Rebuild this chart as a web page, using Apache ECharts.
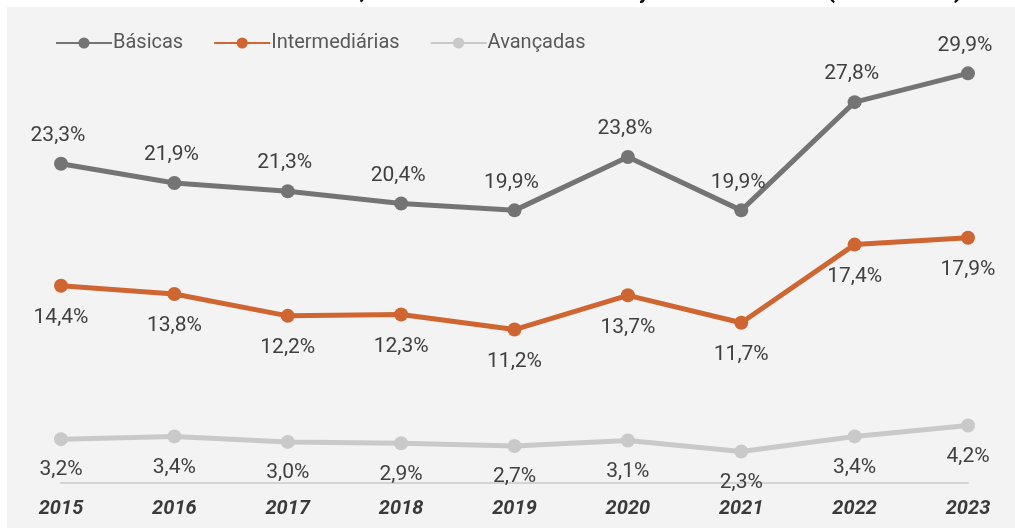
<!DOCTYPE html>
<html>
<head>
<meta charset="utf-8">
<script src="https://cdn.jsdelivr.net/npm/echarts@6/dist/echarts.min.js"></script>
<style>
html,body{margin:0;padding:0;background:#ffffff;}
#c{width:1015px;height:528px;}
</style>
</head>
<body>
<div id="c"></div>
<script>
const categories = ['2015','2016','2017','2018','2019','2020','2021','2022','2023'];
const basicas = [23.3, 21.9, 21.3, 20.4, 19.9, 23.8, 19.9, 27.8, 29.9];
const intermediarias = [14.4, 13.8, 12.2, 12.3, 11.2, 13.7, 11.7, 17.4, 17.9];
const avancadas = [3.2, 3.4, 3.0, 2.9, 2.7, 3.1, 2.3, 3.4, 4.2];
const seriesNames = ['Básicas', 'Intermediárias', 'Avançadas'];
const titleLeft = 'Proporção de pessoas que realizaram atividades básicas,';
const titleRight = ' intermediárias e avançadas no Brasil (% do total)';

const fmt = p => p.value.toFixed(1).replace('.', ',') + '%';
const FONT = 'Roboto, "Noto Sans", sans-serif';

const chart = echarts.init(document.getElementById('c'));
function mk(name, data, color, pos) {
  return {
    name, type: 'line', data,
    symbol: 'circle', symbolSize: 14,
    lineStyle: { width: 5, color },
    itemStyle: { color },
    label: {
      show: true, position: pos, align: 'center', verticalAlign: 'middle', formatter: fmt,
      fontFamily: FONT, fontSize: 21, color: '#404040'
    },
    labelLayout: { hideOverlap: false },
    emphasis: { disabled: true },
    animation: false
  };
}
chart.setOption({
  backgroundColor: '#ffffff',
  animation: false,
  graphic: [
    { type: 'rect', z: -10, shape: { x: 7, y: 7, width: 1008, height: 521 }, style: { fill: '#f3f3f3' } },
    { type: 'text', z: 10, x: 366, y: 4, style: { text: titleLeft, font: 'bold 27px ' + FONT, fill: '#111', textAlign: 'right', textVerticalAlign: 'bottom' } },
    { type: 'text', z: 10, x: 366, y: 4, style: { text: titleRight, font: 'bold 27px ' + FONT, fill: '#111', textAlign: 'left', textVerticalAlign: 'bottom' } }
  ],
  legend: {
    left: 50, top: 28,
    itemWidth: 56, itemHeight: 14, itemGap: 30,
    textStyle: { fontFamily: FONT, fontSize: 20, color: '#595959', padding: [0, 0, 0, -4] },
    data: seriesNames
  },
  grid: { left: 61, right: 47, top: 72, bottom: 45 },
  xAxis: {
    type: 'category', data: categories, boundaryGap: false,
    axisLine: { lineStyle: { color: '#d4d4d4', width: 2 } },
    axisTick: { show: false },
    axisLabel: { margin: 16, fontFamily: FONT, fontSize: 20, fontWeight: 'bold', fontStyle: 'italic', color: '#3a3a3a' }
  },
  yAxis: { type: 'value', min: 0, max: 30, show: false, splitLine: { show: false } },
  series: [
    mk(seriesNames[0], basicas, '#747474', [4, -21]),
    mk(seriesNames[1], intermediarias, '#cf6631', [7, 39]),
    mk(seriesNames[2], avancadas, '#c9c9c9', [7, 38])
  ]
});
</script>
</body>
</html>
